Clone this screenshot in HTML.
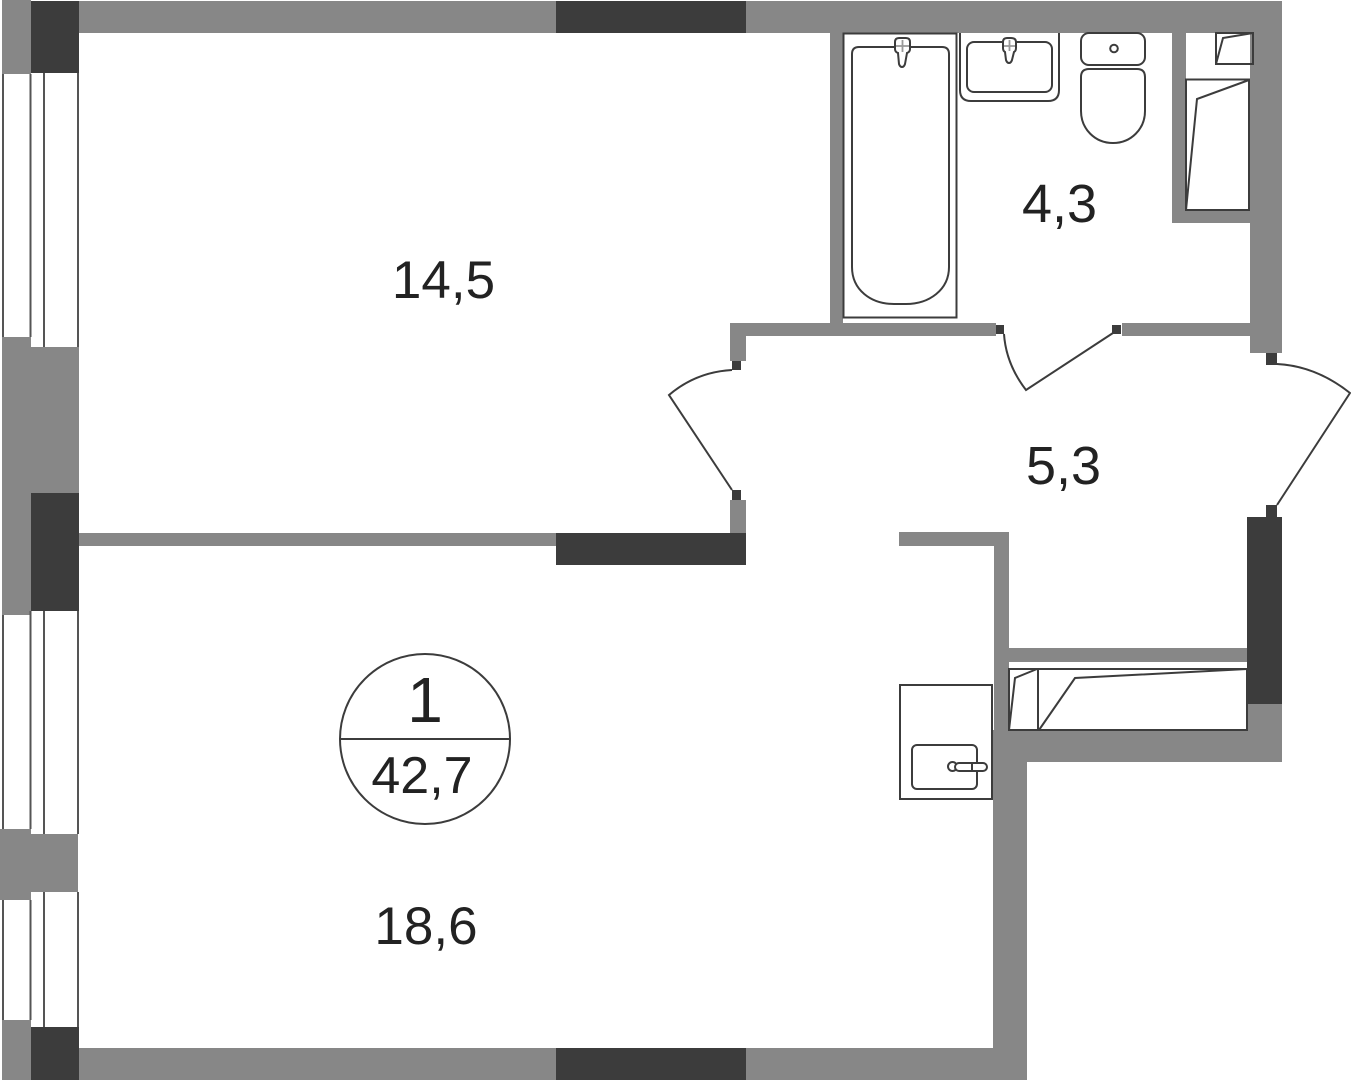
<!DOCTYPE html>
<html>
<head>
<meta charset="utf-8">
<style>
html,body{margin:0;padding:0;background:#fff;}
svg{display:block;}
text{font-family:"Liberation Sans",sans-serif;fill:#222;}
</style>
</head>
<body>
<svg width="1351" height="1080" viewBox="0 0 1351 1080" xmlns="http://www.w3.org/2000/svg">
<rect width="1351" height="1080" fill="#fff"/>
<!-- gray walls -->
<g fill="#878787">
<rect x="79" y="1" width="1203" height="32"/>
<rect x="1250" y="1" width="32" height="352"/>
<rect x="830" y="33" width="13" height="290"/>
<rect x="731" y="323" width="265" height="13"/>
<rect x="1122" y="323" width="128" height="13"/>
<rect x="1172" y="33" width="14" height="190"/>
<rect x="1172" y="211" width="78" height="12"/>
<rect x="730" y="323" width="16" height="38"/>
<rect x="730" y="500" width="16" height="33"/>
<rect x="79" y="533" width="477" height="13"/>
<rect x="899" y="532" width="110" height="14"/>
<rect x="994" y="532" width="15" height="198"/>
<rect x="1009" y="648" width="238" height="14"/>
<rect x="993" y="730" width="34" height="350"/>
<rect x="993" y="730" width="289" height="32"/>
<rect x="1247" y="704" width="35" height="58"/>
<rect x="79" y="1048" width="948" height="32"/>
<!-- left column -->
<rect x="2" y="0" width="29" height="74"/>
<rect x="2" y="337" width="29" height="278"/>
<rect x="31" y="347" width="48" height="146"/>
<rect x="0" y="829" width="31" height="71"/>
<rect x="31" y="834" width="47" height="58"/>
<rect x="2" y="1020" width="29" height="60"/>
</g>
<!-- dark walls -->
<g fill="#3c3c3c">
<rect x="31" y="1" width="48" height="72"/>
<rect x="31" y="493" width="48" height="118"/>
<rect x="31" y="1027" width="48" height="53"/>
<rect x="556" y="1" width="190" height="32"/>
<rect x="556" y="533" width="190" height="32"/>
<rect x="556" y="1048" width="190" height="32"/>
<rect x="1247" y="517" width="35" height="187"/>
<rect x="732" y="361" width="9" height="9"/>
<rect x="732" y="490" width="9" height="10"/>
<rect x="996" y="325" width="8" height="9"/>
<rect x="1112" y="325" width="9" height="9"/>
<rect x="1266" y="353" width="11" height="12"/>
<rect x="1266" y="505" width="11" height="12"/>
</g>
<!-- window lines -->
<g stroke="#555" stroke-width="2" fill="none">
<path d="M3 74V337M3 615V829M3 900V1020"/>
<path d="M30.500 74V337M30.500 611V829M30.500 900V1020"/>
<path d="M44 73V347M44 611V834M44 892V1027"/>
<path d="M78 73V347M78 611V834M78 892V1027"/>
</g>
<!-- fixtures -->
<g fill="none" stroke="#3c3c3c" stroke-width="2">
<!-- bath -->
<rect x="843.500" y="33.500" width="113" height="284"/>
<path d="M859 47H942Q949 47 949 54V267C949 290 929 304 906 304H894C871 304 852 290 852 267V54Q852 47 859 47Z"/>
<path d="M895 42Q895 38 899 38H906Q910 38 910 42V49Q910 52 907 53L905 64Q904 67 902 67Q900 67 899 64L898 53Q895 52 895 49Z" fill="#fff"/>
<path d="M902.500 40V52M896 46H909" stroke="#999" stroke-width="1.800"/>
<!-- sink -->
<path d="M960 33V90Q960 101 971 101H1048Q1059 101 1059 90V33"/>
<rect x="967" y="42" width="85" height="50" rx="7"/>
<path d="M1003 42Q1003 38 1007 38H1011Q1016 38 1016 42V48Q1016 51 1014 52L1012 60Q1011 63 1009 63Q1007 63 1006 60L1005 52Q1003 51 1003 48Z" fill="#fff"/>
<path d="M1009.500 40V51M1004 46H1015" stroke="#999" stroke-width="1.800"/>
<!-- toilet -->
<rect x="1081" y="33" width="64" height="32" rx="8"/>
<circle cx="1114" cy="48.500" r="3.800"/>
<path d="M1089 69H1137Q1145 69 1145 77V111C1145 129 1131 143 1113 143C1095 143 1081 129 1081 111V77Q1081 69 1089 69Z"/>
<!-- upper closet -->
<rect x="1186" y="79.500" width="63" height="130.500"/>
<path d="M1186 210L1197 99L1249 80"/>
<rect x="1216" y="33" width="37" height="31"/>
<path d="M1216 64L1223 38L1253 33"/>
<!-- lower closet -->
<rect x="1009" y="669" width="238" height="61"/>
<path d="M1038 669V730"/>
<path d="M1009 730L1015 678L1037 669"/>
<path d="M1039 730L1075 678L1247 669"/>
<!-- kitchen -->
<rect x="900" y="685" width="92" height="114"/>
<rect x="912" y="745" width="65" height="44" rx="5"/>
<circle cx="952.500" cy="766.500" r="4.500" fill="#fff"/>
<rect x="955" y="763" width="32" height="8" rx="4" fill="#fff"/>
<path d="M972 763V771"/>
<!-- doors -->
<path d="M732 370Q696 372 669 395L732 490" stroke-width="2"/>
<path d="M1004 334Q1006 364 1026 390L1113 333" stroke-width="2"/>
<path d="M1277 364Q1316 366 1350 393L1277 505" stroke-width="2"/>
<!-- circle -->
<circle cx="425" cy="739" r="85" stroke-width="2"/>
<path d="M340 739H510" stroke-width="2"/>
</g>
<!-- labels -->
<text x="443.500" y="298" font-size="53" text-anchor="middle">14,5</text>
<text x="1059.500" y="222" font-size="54" text-anchor="middle">4,3</text>
<text x="1063.500" y="484" font-size="54" text-anchor="middle">5,3</text>
<text x="426" y="944" font-size="53" text-anchor="middle">18,6</text>
<text x="425" y="722" font-size="64" text-anchor="middle">1</text>
<text x="422" y="793" font-size="52" text-anchor="middle">42,7</text>
</svg>
</body>
</html>
